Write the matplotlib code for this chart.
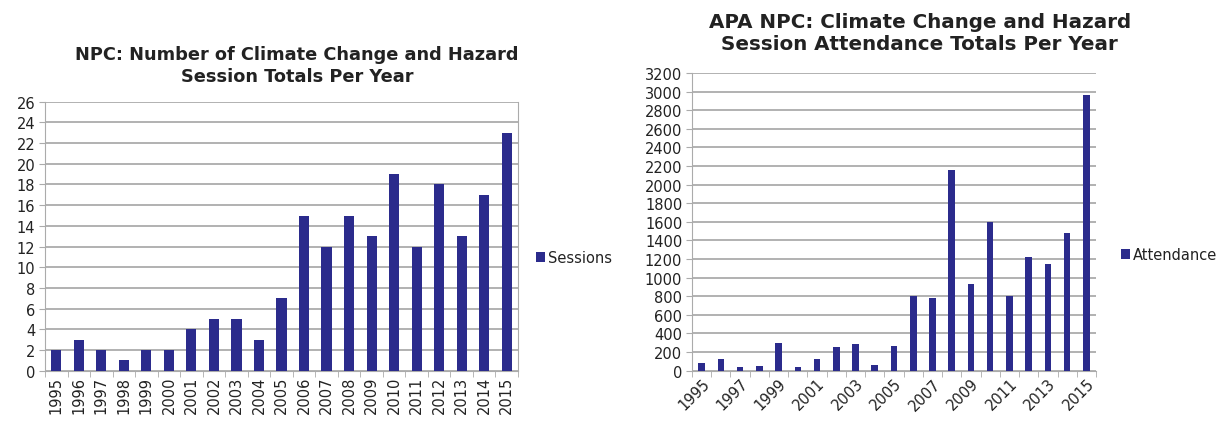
import numpy as np
import matplotlib
matplotlib.use("Agg")
import matplotlib.pyplot as plt
from matplotlib.ticker import FixedLocator, MultipleLocator

years = [str(y) for y in range(1995, 2016)]
sessions = [2, 3, 2, 1, 2, 2, 4, 5, 5, 3, 7, 15, 12, 15, 13, 19, 12, 18, 13, 17, 23]
attendance = [79, 125, 36, 47, 297, 36, 125, 258, 286, 65, 262, 806, 778, 2159,
              931, 1600, 806, 1221, 1143, 1479, 2961]

title_left = "NPC: Number of Climate Change and Hazard\nSession Totals Per Year"
title_right = "APA NPC: Climate Change and Hazard\nSession Attendance Totals Per Year"

bar_color = "#2b2b8c"
grid_color = "#ababab"
text_color = "#222222"

plt.rcParams["font.family"] = ["DejaVu Sans"]

fig = plt.figure(figsize=(12.23, 4.27), dpi=100)
W, H = 1223, 427


def add_axes_px(x0, x1, ytop, ybot):
    return fig.add_axes([x0 / W, 1 - ybot / H, (x1 - x0) / W, (ybot - ytop) / H])


def style(ax, ymax, ystep, right_edge):
    x = np.arange(len(years))
    ax.set_xlim(-0.5, len(years) - 0.5)
    ax.set_ylim(0, ymax)
    ax.yaxis.set_major_locator(MultipleLocator(ystep))
    ax.grid(axis="y", color=grid_color, linewidth=1.3)
    ax.set_axisbelow(True)
    ax.spines["top"].set_visible(False)
    ax.spines["right"].set_visible(right_edge)
    for s in ["right", "left", "bottom"]:
        ax.spines[s].set_color(grid_color)
    ax.tick_params(axis="y", length=4, color=grid_color, labelsize=10.5,
                   labelcolor=text_color, pad=3)
    ax.xaxis.set_minor_locator(FixedLocator(np.arange(-0.5, len(years), 1.0)))
    ax.tick_params(axis="x", which="minor", length=4, color=grid_color)
    ax.tick_params(axis="x", which="major", length=0, labelsize=10.5,
                   labelcolor=text_color)
    return x


# Left chart: number of sessions
ax1 = add_axes_px(45, 518, 102.7, 371.7)
x = style(ax1, 26, 2, True)
ax1.bar(x, sessions, width=0.45, color=bar_color, label="Sessions", zorder=3)
ax1.set_xticks(x)
ax1.set_xticklabels(years, rotation=90)
ax1.set_title(title_left, fontsize=12.8, fontweight="bold", color=text_color,
              pad=15, linespacing=1.25, x=0.533)
ax1.legend(loc="center left", bbox_to_anchor=(1.01, 0.42), frameon=False,
           handlelength=0.6, handleheight=0.6, handletextpad=0.2,
           fontsize=10.5, labelcolor=text_color)

# Right chart: attendance
ax2 = add_axes_px(692, 1096, 74, 371.7)
x = style(ax2, 3200, 200, False)
ax2.bar(x, attendance, width=0.34, color=bar_color, label="Attendance", zorder=3)
ax2.set_xticks(x[::2])
ax2.set_xticklabels(years[::2], rotation=45, ha="right", rotation_mode="anchor")
ax2.set_title(title_right, fontsize=14.3, fontweight="bold", color=text_color,
              pad=17.5, linespacing=1.2, x=0.564)
ax2.legend(loc="center left", bbox_to_anchor=(1.03, 0.39), frameon=False,
           handlelength=0.6, handleheight=0.6, handletextpad=0.2,
           fontsize=10.5, labelcolor=text_color)

fig.savefig("out.png", dpi=100)
